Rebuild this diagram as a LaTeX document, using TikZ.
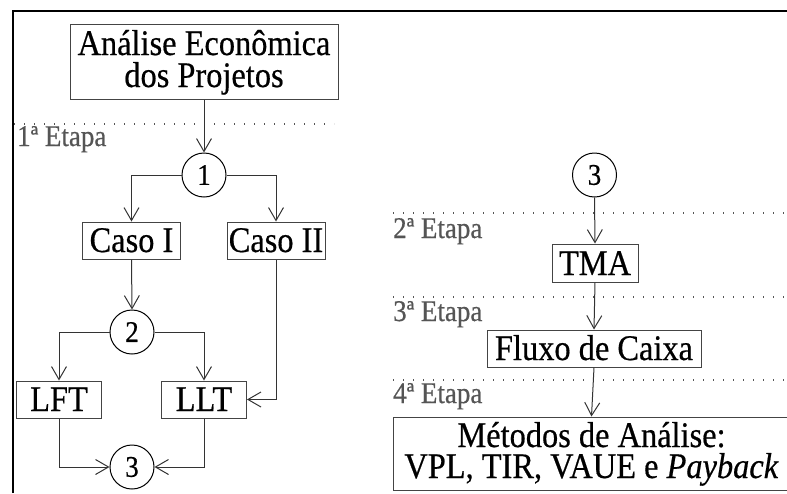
\documentclass[tikz,border=0pt]{standalone}
\usepackage{fontspec}
\setmainfont{Liberation Serif}[FakeStretch=0.9, FakeBold=0.5]
\usetikzlibrary{arrows.meta}
\definecolor{boxline}{HTML}{444444}
\definecolor{conline}{HTML}{333333}
\definecolor{stagegray}{HTML}{555555}
\tikzset{
  stepbox/.style={draw=boxline, line width=1pt, inner sep=0pt, align=center,
    font=\fontsize{36}{32}\selectfont, text height=30pt, text depth=7pt},
  numcirc/.style={draw=black, line width=1pt, circle, minimum size=44pt, inner sep=0pt,
    font=\fontsize{30}{30}\selectfont},
  conn/.style={draw=conline, line width=1pt, -{Straight Barb[length=13pt,width=15pt,line width=1pt]}},
  stageline/.style={draw=stagegray, line width=1.2pt, dash pattern=on 1.2pt off 8.8pt},
  stagelabel/.style={text=stagegray, anchor=base west, inner sep=0pt, font=\fontsize{30}{30}\selectfont},
}
\begin{document}
\begin{tikzpicture}[x=1pt,y=-1pt]
\useasboundingbox (0,0) rectangle (787,493);
% frame
\draw[line width=2pt] (13,493) -- (13,10.5) -- (790,10.5);

% stage lines
\draw[stageline] (14,124) -- (334,124);
\draw[stageline] (393,213) -- (787,213);
\draw[stageline] (393,297) -- (787,297);
\draw[stageline] (393,380) -- (787,380);
\node[stagelabel] (e1) at (17,146) {1ª Etapa};
\node[stagelabel] (e2) at (393,238) {2ª Etapa};
\node[stagelabel] (e3) at (393,321) {3ª Etapa};
\node[stagelabel] (e4) at (393,403) {4ª Etapa};

% left flow
\node[stepbox, minimum width=268pt, minimum height=75pt, text height=63pt, text depth=12pt] (top) at (204,61.5) {Análise Econômica\\dos Projetos};
\node[numcirc] (c1) at (204,175) {1};
\node[stepbox, minimum width=98pt, minimum height=37pt] (casoI) at (131.5,240.5) {Caso I};
\node[stepbox, minimum width=98pt, minimum height=37pt] (casoII) at (276,240.5) {Caso II};
\node[numcirc] (c2) at (132,332) {2};
\node[stepbox, minimum width=85pt, minimum height=37pt] (lft) at (59,399.5) {LFT};
\node[stepbox, minimum width=85pt, minimum height=37pt] (llt) at (204,399.5) {LLT};
\node[numcirc] (c3) at (132,467) {3};

\draw[conn] (top.south) -- (c1.north);
\draw[conn] (c1.west) -| (casoI.north);
\draw[conn] (c1.east) -| (casoII.north);
\draw[conn] (casoI.south) -- (c2.north);
\draw[conn] (c2.west) -| (lft.north);
\draw[conn] (c2.east) -| (llt.north);
\draw[conn] (casoII.south) |- (llt.east);
\draw[conn] (lft.south) |- (c3.west);
\draw[conn] (llt.south) |- (c3.east);

% right flow
\node[numcirc] (c3r) at (594.5,175) {3};
\node[stepbox, minimum width=86pt, minimum height=38pt, text height=31pt] (tma) at (595,263) {TMA};
\node[stepbox, minimum width=214pt, minimum height=37pt] (fluxo) at (594,348.5) {Fluxo de Caixa};
\node[stepbox, minimum width=397pt, minimum height=73pt, text height=61pt, text depth=12pt,
  font=\fontsize{36}{31}\selectfont] (met) at (591.5,453.5) {Métodos de Análise:\\VPL, TIR, VAUE e \textit{Payback}};

\draw[conn] (c3r.south) -- (tma.north);
\draw[conn] (tma.south) -- (fluxo.north);
\draw[conn] (fluxo.south) -- (met.north);
\end{tikzpicture}
\end{document}
